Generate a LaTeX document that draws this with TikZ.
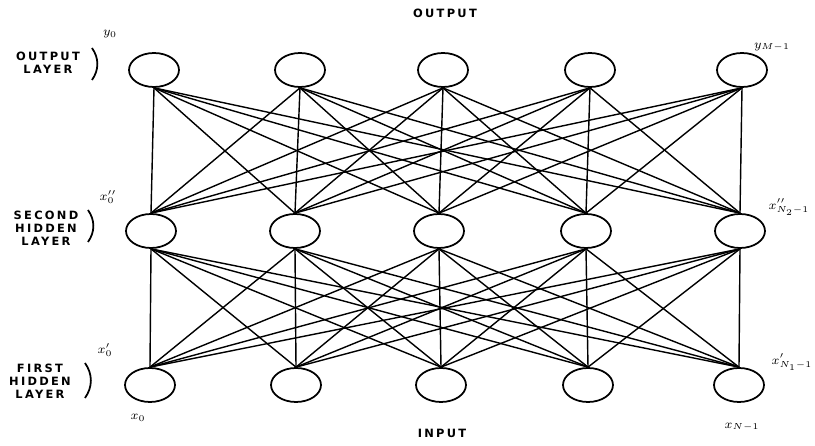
\documentclass[tikz,border=0pt]{standalone}
\usepackage{fontspec}
\usepackage{amsmath}
\usetikzlibrary{arrows,shapes.geometric}
\newfontfamily\lblfont[LetterSpace=20]{DejaVu Sans}

\begin{document}
\begin{tikzpicture}
\tikzset{font=\small,auto}
\tikzset{vertex/.style = {shape=ellipse,draw,line width=1pt,minimum width=1.0cm,minimum height=0.68cm,inner sep=0pt}}
\tikzset{edge/.style = {-,line width=0.8pt}}
\tikzset{layer/.style = {font=\lblfont\bfseries\fontsize{6.5}{7.5}\selectfont,align=center,inner sep=0pt}}
\tikzset{brace/.style = {line width=1pt}}
\tikzset{var/.style = {font=\scriptsize,inner sep=0pt}}
\useasboundingbox (0,0) rectangle (16.3,8.92);

% input / first hidden layer
\node[vertex] (a1) at (3.00,1.22) {};
\node[vertex] (a2) at (5.92,1.22) {};
\node[vertex] (a3) at (8.82,1.22) {};
\node[vertex] (a4) at (11.76,1.22) {};
\node[vertex] (a5) at (14.78,1.22) {};
% second hidden layer
\node[vertex] (b1) at (3.02,4.30) {};
\node[vertex] (b2) at (5.90,4.30) {};
\node[vertex] (b3) at (8.78,4.30) {};
\node[vertex] (b4) at (11.72,4.30) {};
\node[vertex] (b5) at (14.80,4.30) {};
% output layer
\node[vertex] (c1) at (3.08,7.52) {};
\node[vertex] (c2) at (6.00,7.52) {};
\node[vertex] (c3) at (8.86,7.52) {};
\node[vertex] (c4) at (11.80,7.52) {};
\node[vertex] (c5) at (14.84,7.52) {};

%edges
\foreach \i in {1,...,5}
  \foreach \j in {1,...,5} {
    \draw[edge] (a\i.north) -- (b\j.south);
    \draw[edge] (b\i.north) -- (c\j.south);
  }

% layer names
\node[layer] (tout) at (8.90,8.66) {OUTPUT};
\node[layer] (tin) at (8.84,0.26) {INPUT};
\node[layer] (lout) at (0.96,7.66) {OUTPUT\\LAYER};
\node[layer] (lsec) at (0.92,4.36) {SECOND\\HIDDEN\\LAYER};
\node[layer] (lfir) at (0.80,1.30) {FIRST\\HIDDEN\\LAYER};
\draw[brace] (1.84,7.96) to[bend left=35] (1.84,7.32);
\draw[brace] (1.76,4.72) to[bend left=35] (1.76,4.08);
\draw[brace] (1.70,1.66) to[bend left=35] (1.70,0.96);

% unit labels
\node[var] (vy0) at (2.20,8.24) {$y_0$};
\node[var] (vym) at (15.44,7.98) {$y_{M-1}$};
\node[var] (vh0) at (2.16,4.98) {$x''_0$};
\node[var] (vhm) at (15.78,4.78) {$x''_{N_2-1}$};
\node[var] (vf0) at (2.10,1.92) {$x'_0$};
\node[var] (vfm) at (15.84,1.68) {$x'_{N_1-1}$};
\node[var] (vx0) at (2.76,0.56) {$x_0$};
\node[var] (vxm) at (14.84,0.38) {$x_{N-1}$};
\end{tikzpicture}
\end{document}
